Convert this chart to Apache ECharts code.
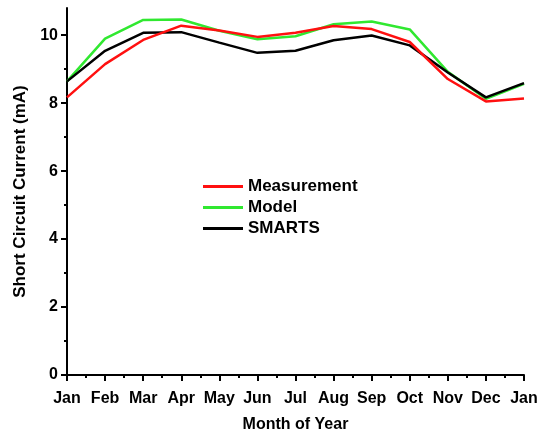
<!DOCTYPE html>
<html>
<head>
<meta charset="utf-8">
<script src="https://cdn.jsdelivr.net/npm/echarts@6/dist/echarts.min.js"></script>
<style>html,body{margin:0;padding:0;background:#fff}#c{width:546px;height:435px}</style>
</head>
<body>
<div id="c"></div>
<script>
const months = ['Jan','Feb','Mar','Apr','May','Jun','Jul','Aug','Sep','Oct','Nov','Dec','Jan'];
const measurement = [8.17, 9.15, 9.86, 10.28, 10.14, 9.95, 10.07, 10.27, 10.18, 9.80, 8.71, 8.05, 8.14];
const model       = [8.64, 9.90, 10.45, 10.46, 10.13, 9.88, 9.97, 10.32, 10.40, 10.17, 8.92, 8.13, 8.57];
const smarts      = [8.64, 9.54, 10.07, 10.09, 9.78, 9.48, 9.54, 9.85, 9.99, 9.70, 8.90, 8.17, 8.59];
const yMajorTicks = [0, 2, 4, 6, 8, 10];
const yMinorTicks = [1, 3, 5, 7, 9];
const xMinorTicks = [0.5, 1.5, 2.5, 3.5, 4.5, 5.5, 6.5, 7.5, 8.5, 9.5, 10.5, 11.5];

const pairs = arr => arr.map((v, i) => [i, v]);
const font = 'Liberation Sans, Arial, sans-serif';
const chart = echarts.init(document.getElementById('c'), null, {renderer: 'canvas'});
const line = (name, data, color, z) => ({
  name, type: 'line', data: pairs(data), showSymbol: false, symbol: 'none',
  lineStyle: {color, width: 2.5}, itemStyle: {color}, z, animation: false
});
const txt = size => ({fontFamily: font, fontSize: size, fontWeight: 'bold', color: '#000'});
chart.setOption({
  animation: false,
  grid: {left: 67, right: 22, top: 8, bottom: 60, containLabel: false, outerBoundsMode: 'none'},
  legend: {
    data: ['Measurement', 'Model', 'SMARTS'],
    orient: 'vertical', left: 203, top: 178, padding: 0,
    itemWidth: 40, itemHeight: 3, itemGap: 4, icon: 'rect',
    textStyle: txt(17)
  },
  xAxis: [{
    type: 'value', min: 0, max: 12, interval: 1,
    name: 'Month of Year', nameLocation: 'middle', nameGap: 42,
    nameTextStyle: txt(16),
    axisLine: {lineStyle: {color: '#000', width: 2}},
    axisTick: {show: true, inside: false, length: 6, lineStyle: {color: '#000', width: 2}},
    axisLabel: Object.assign({formatter: v => months[v], margin: 16}, txt(16)),
    splitLine: {show: false}
  }, {
    type: 'value', min: 0, max: 12, position: 'bottom', offset: 0,
    axisLine: {show: false},
    axisTick: {show: true, length: 3, customValues: xMinorTicks, lineStyle: {color: '#000', width: 2}},
    axisLabel: {show: false},
    splitLine: {show: false}
  }],
  yAxis: [{
    type: 'value', min: 0, max: 10.8, interval: 2,
    name: 'Short Circuit Current (mA)', nameLocation: 'middle', nameGap: 38,
    nameTextStyle: txt(17),
    axisLine: {show: true, lineStyle: {color: '#000', width: 2}},
    axisTick: {show: true, length: 6, customValues: yMajorTicks, lineStyle: {color: '#000', width: 2}},
    axisLabel: Object.assign({customValues: yMajorTicks, margin: 9}, txt(16)),
    splitLine: {show: false}
  }, {
    type: 'value', min: 0, max: 10.8, position: 'left', offset: 0,
    axisLine: {show: false},
    axisTick: {show: true, length: 3, customValues: yMinorTicks, lineStyle: {color: '#000', width: 2}},
    axisLabel: {show: false},
    splitLine: {show: false}
  }],
  series: [
    line('Measurement', measurement, '#ff1010', 5),
    line('Model', model, '#30e830', 3),
    line('SMARTS', smarts, '#000000', 4)
  ]
});
</script>
</body>
</html>
